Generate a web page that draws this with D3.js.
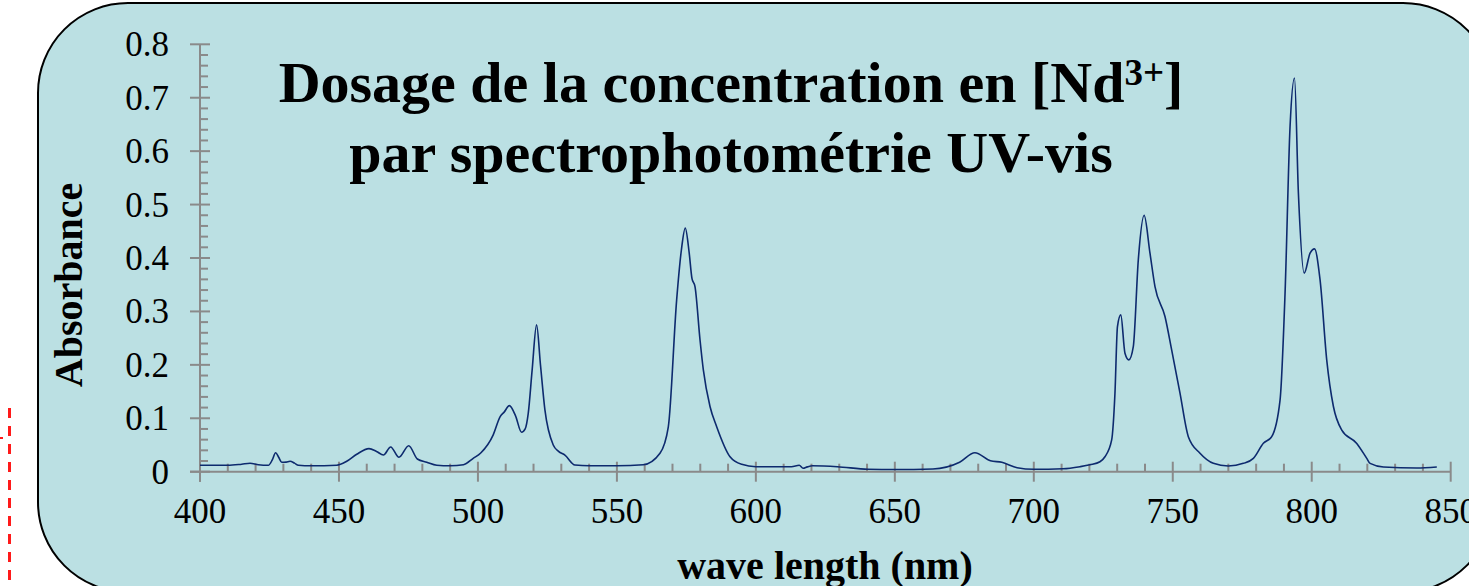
<!DOCTYPE html>
<html><head><meta charset="utf-8">
<script src="https://cdn.jsdelivr.net/npm/d3@7"></script>
<style>html,body{margin:0;padding:0;background:#fff;overflow:hidden}</style>
</head><body>
<svg id="c" width="1469" height="586"></svg>
<script>
const wavelengths = [400,405,410,415,418,421,424.6,426,427.2,428.3,429.4,431,432.4,434,435.4,440,449.2,452.8,456.4,460.8,463.5,466,468.6,471.6,475.1,478.2,481.6,485.2,490,494.8,498.3,501,505.5,508,509.5,511.3,513.5,515.7,517,518.1,519.5,521.1,522.5,524.1,527.1,529,531.3,534.9,540,550,559.5,565.5,568.5,571.5,573.2,574.6,576,577,578.1,579.9,581.1,583.5,585.9,590.7,594.9,600,612.8,615.6,617,618.5,620.4,629.3,640.3,650,663.7,673.3,678.8,684.4,688.5,694,700,710.5,716.6,720.2,723.8,725.6,728,729.2,730.1,731.3,732.8,734.2,735.8,737.6,739.7,741.8,743.6,747.2,749.6,752.6,755.6,759.8,764.6,770,775.4,779,782.6,785.6,788.6,790.4,792.2,793.8,795.2,797.3,799.4,801,803,805.4,807.8,810.8,816.2,819.8,821,825.8,837.8,845];
const absorbance = [0.012,0.012,0.012,0.014,0.0157,0.013,0.012,0.022,0.0356,0.027,0.0176,0.018,0.0195,0.016,0.012,0.011,0.012,0.0195,0.0326,0.0431,0.038,0.0313,0.0463,0.027,0.0487,0.0238,0.0176,0.012,0.011,0.013,0.025,0.035,0.069,0.103,0.112,0.1237,0.105,0.0738,0.08,0.109,0.19,0.2748,0.2,0.1156,0.05,0.038,0.031,0.0125,0.011,0.011,0.013,0.0345,0.084,0.3217,0.415,0.456,0.41,0.362,0.3466,0.247,0.1905,0.122,0.0843,0.028,0.0138,0.0094,0.0094,0.012,0.0064,0.009,0.011,0.0094,0.0045,0.004,0.005,0.0176,0.0356,0.0206,0.0176,0.0075,0.0045,0.0055,0.0094,0.013,0.0187,0.028,0.059,0.147,0.2717,0.2936,0.2218,0.2093,0.2342,0.3966,0.4797,0.409,0.3466,0.2904,0.228,0.147,0.0656,0.0345,0.0157,0.0107,0.0157,0.025,0.0532,0.0656,0.134,0.334,0.646,0.737,0.5216,0.3717,0.409,0.417,0.359,0.209,0.122,0.078,0.053,0.025,0.0155,0.0088,0.007,0.0088];
const xTicks = [400,450,500,550,600,650,700,750,800,850];
const yTicks = [0,0.1,0.2,0.3,0.4,0.5,0.6,0.7,0.8];
const titleLine1 = "Dosage de la concentration en [Nd";
const titleSup = "3+";
const titleEnd = "]";
const titleLine2 = "par spectrophotométrie UV-vis";
const xLabel = "wave length (nm)";
const yLabel = "Absorbance";

const svg = d3.select("#c");
const FONT = "'Liberation Serif','Times New Roman',serif";
const axisColor = "#8a8a8a";

// red dashed guide at far left
svg.append("line").attr("x1",9.5).attr("x2",9.5).attr("y1",408).attr("y2",590)
  .attr("stroke","#ff1a1a").attr("stroke-width",3).attr("stroke-dasharray","10 8");
svg.append("rect").attr("x",0).attr("y",437).attr("width",3).attr("height",2).attr("fill","#ff1a1a");

// panel
svg.append("rect").attr("x",38).attr("y",3).attr("width",1455).attr("height",589)
  .attr("rx",90).attr("ry",90).attr("fill","#bbe0e3").attr("stroke","#000").attr("stroke-width",2);

const x = d3.scaleLinear().domain([400,850]).range([200,1450.7]);
const y = d3.scaleLinear().domain([0,0.8]).range([471.7,44.3]);

const g = svg.append("g");
// y axis
g.append("line").attr("x1",x(400)).attr("x2",x(400)).attr("y1",y(0.8)).attr("y2",y(0)+10)
  .attr("stroke",axisColor).attr("stroke-width",2);
d3.range(0,0.8001,0.02).forEach(v=>{
  const major = Math.abs(v*10-Math.round(v*10))<1e-6;
  g.append("line").attr("x1",major?x(400)-10:x(400)).attr("x2",major?x(400)+10:x(400)+8)
    .attr("y1",y(v)).attr("y2",y(v)).attr("stroke",axisColor).attr("stroke-width",2);
});
yTicks.forEach(v=>{
  g.append("text").attr("x",169).attr("y",y(v)+12).attr("text-anchor","end")
    .attr("font-family",FONT).attr("font-size",35).attr("fill","#000")
    .text(v===0?"0":d3.format(".1f")(v));
});
// x axis
g.append("line").attr("x1",x(400)-10).attr("x2",x(850)).attr("y1",y(0)).attr("y2",y(0))
  .attr("stroke",axisColor).attr("stroke-width",2);
d3.range(400,851,10).forEach(v=>{
  const major = v%50===0;
  g.append("line").attr("x1",x(v)).attr("x2",x(v))
    .attr("y1",major?y(0)-10:y(0)-8).attr("y2",major?y(0)+10:y(0))
    .attr("stroke",axisColor).attr("stroke-width",2);
});
xTicks.forEach(v=>{
  g.append("text").attr("x",x(v)).attr("y",523).attr("text-anchor","middle")
    .attr("font-family",FONT).attr("font-size",35).attr("fill","#000").text(v);
});

// spectrum
const data = wavelengths.map((w,i)=>[w,absorbance[i]]);
svg.append("path").datum(data)
  .attr("d",d3.line().x(d=>x(d[0])).y(d=>y(d[1])).curve(d3.curveMonotoneX))
  .attr("fill","none").attr("stroke","#0d2a6e").attr("stroke-width",1.6);

// titles
const t1 = svg.append("text").attr("x",731).attr("y",102).attr("text-anchor","middle")
  .attr("font-family",FONT).attr("font-weight","bold").attr("font-size",58).attr("fill","#000");
t1.append("tspan").text(titleLine1);
t1.append("tspan").attr("dy",-17).attr("font-size",37).text(titleSup);
t1.append("tspan").attr("dy",17).text(titleEnd);
svg.append("text").attr("x",731).attr("y",172).attr("text-anchor","middle")
  .attr("font-family",FONT).attr("font-weight","bold").attr("font-size",58).attr("fill","#000")
  .text(titleLine2);

// axis labels
svg.append("text").attr("x",825).attr("y",579).attr("text-anchor","middle")
  .attr("font-family",FONT).attr("font-weight","bold").attr("font-size",40).attr("fill","#000")
  .text(xLabel);
svg.append("text").attr("transform","translate(82,285) rotate(-90)").attr("text-anchor","middle")
  .attr("font-family",FONT).attr("font-weight","bold").attr("font-size",40).attr("fill","#000")
  .text(yLabel);
</script>
</body></html>
